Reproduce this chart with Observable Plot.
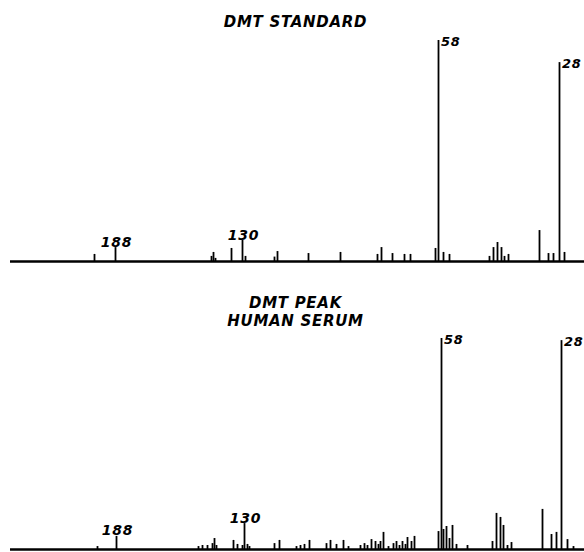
<!DOCTYPE html>
<html>
<head>
<meta charset="utf-8">
<script src="https://cdn.jsdelivr.net/npm/d3@7"></script>
<script src="https://cdn.jsdelivr.net/npm/@observablehq/plot@0.6"></script>
<style>
  body { margin: 0; background: #fff; }
  #chart svg { display: block; }
</style>
</head>
<body>
<div id="chart"></div>
<script>
// Scan axis (arbitrary chart-scan units along the recording) and relative intensity (%)
const scanStart = 10;
const scanEnd = 584;

// Panel 1: DMT standard
const standardPos = [94, 115, 211, 213, 215, 231, 242, 245, 274, 277, 308, 340, 377, 381, 392, 404, 410,
  435, 438, 443, 449, 489, 493, 497, 501, 504, 508, 539, 548, 553, 559, 564];
const standardInt = [3.2, 6.3, 2.3, 4.1, 1.4, 5.9, 9.5, 2.3, 2.0, 4.5, 3.6, 4.1, 3.2, 6.3, 3.6, 3.2, 3.2,
  5.9, 100, 4.1, 3.2, 2.3, 6.3, 8.6, 6.3, 2.3, 3.2, 14, 3.6, 3.6, 90, 4.1];

// Panel 2: DMT peak in human serum
const serumPos = [97, 116, 198, 202, 207, 212, 214, 216, 233, 237, 242, 244, 247, 249, 274, 279,
  296, 300, 304, 309, 326, 330, 336, 343, 348, 360, 364, 367, 371, 375, 378, 380, 383, 388,
  393, 396, 399, 402, 405, 407, 411, 414, 438, 441, 443, 446, 449, 452, 456, 467,
  492, 496, 500, 503, 507, 511, 542, 551, 556, 561, 567, 573];
const serumInt = [1.4, 6.2, 1.4, 1.9, 1.9, 2.8, 5.2, 1.9, 4.3, 2.4, 1.9, 12.3, 2.4, 1.4, 2.8, 4.3,
  1.4, 1.9, 2.4, 4.3, 2.8, 4.3, 2.4, 4.3, 1.4, 1.9, 2.8, 1.9, 4.7, 3.8, 2.4, 3.8, 8.1, 1.4,
  2.8, 3.8, 1.9, 3.8, 2.4, 5.7, 3.8, 6.2, 8.5, 100, 9.5, 10.9, 5.2, 11.4, 2.4, 1.9,
  3.8, 17.1, 15.2, 11.4, 1.9, 3.3, 19, 7.1, 8.1, 99, 4.7, 1.4];

// Labelled masses (m/z) and the scan position of the labelled peak in each panel
const labelMass = ["188", "130", "58", "28"];
const standardLabelPos = [115, 242, 438, 559];
const serumLabelPos = [116, 244, 441, 561];

const titles = ["DMT STANDARD", "DMT PEAK\nHUMAN SERUM"];

const font = "'DejaVu Sans', sans-serif";

function panel(pos, ints, labelPos, title, opts) {
  const peaks = pos.map((p, i) => ({pos: p, int: ints[i]}));
  const labels = labelPos.map((p, i) => ({pos: p, int: ints[pos.indexOf(p)], text: labelMass[i]}));
  const small = labels.filter(d => d.int < 50);
  const big = labels.filter(d => d.int >= 50);
  return Plot.plot({
    width: 584,
    height: opts.height,
    marginLeft: 0,
    marginRight: 0,
    marginTop: opts.marginTop,
    marginBottom: opts.marginBottom,
    x: {domain: [0, 584], axis: null},
    y: {domain: [0, 100], axis: null},
    style: {fontFamily: font, background: "#fff", color: "#000", letterSpacing: "0.7px"},
    marks: [
      Plot.ruleY([0], {x1: scanStart, x2: scanEnd, stroke: "#000", strokeWidth: 2.4}),
      Plot.ruleX(peaks, {x: "pos", y1: 0, y2: "int", stroke: "#000", strokeWidth: 1.8}),
      Plot.text(small, {x: "pos", y: "int", text: "text", lineAnchor: "bottom", dx: 1, dy: -1,
        fontSize: 14, fontWeight: "bold", fontStyle: "italic", fill: "#000"}),
      Plot.text(big, {x: "pos", y: "int", text: "text", textAnchor: "start", lineAnchor: "top", dx: 2.5, dy: -4,
        fontSize: 13, fontWeight: "bold", fontStyle: "italic", fill: "#000"}),
      Plot.text([title], {frameAnchor: "top", text: d => d, dx: 3, dy: opts.titleDy, lineAnchor: "middle",
        lineHeight: 1.17, fontSize: 15, fontWeight: "bold", fontStyle: "italic", fill: "#000"})
    ]
  });
}

const root = document.getElementById("chart");
root.append(panel(standardPos, standardInt, standardLabelPos, titles[0],
  {height: 276, marginTop: 40, marginBottom: 15, titleDy: -19}));
root.append(panel(serumPos, serumInt, serumLabelPos, titles[1],
  {height: 276, marginTop: 62, marginBottom: 3, titleDy: -27}));
</script>
</body>
</html>
